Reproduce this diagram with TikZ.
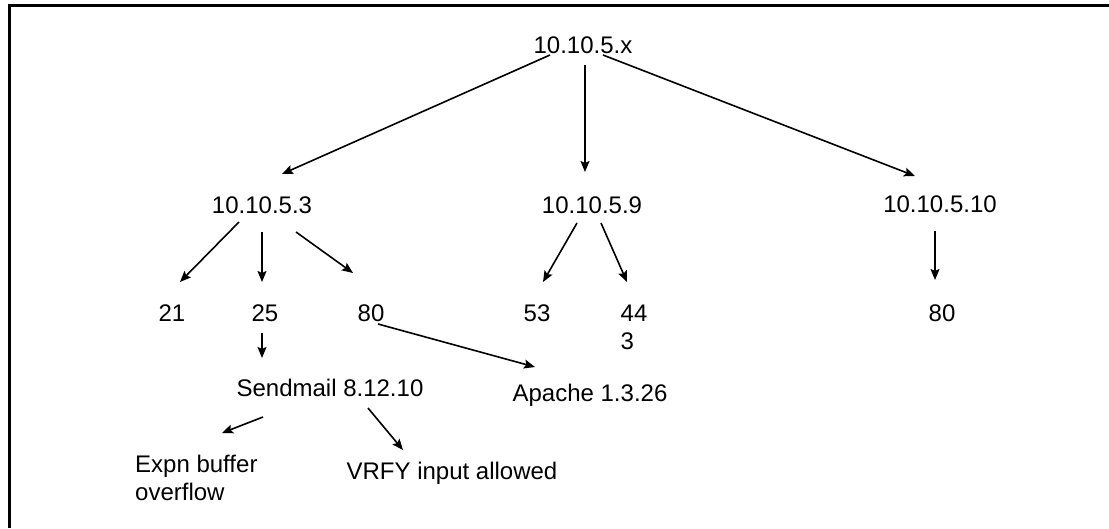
\documentclass[tikz,border=0pt]{standalone}
\usepackage{fontspec}
\setmainfont{Liberation Sans}
\usetikzlibrary{arrows.meta}
\begin{document}
\begin{tikzpicture}[x=1pt,y=-1pt,
  lbl/.style={inner sep=0pt, font=\fontsize{24}{28}\selectfont},
  link/.style={line width=1.6pt, -{Stealth[length=11pt,width=9pt,inset=2pt]}}]
\useasboundingbox (0,0) rectangle (1109,528);
\fill[white] (0,0) rectangle (1109,528);
% frame along the top and left edges
\draw[line width=2.5pt] (1109,5.5) -- (9.5,5.5) -- (9.5,528);

% hosts
\node[lbl] (root) at (583,45) {10.10.5.x};
\node[lbl] (h3)  at (262,205) {10.10.5.3};
\node[lbl] (h9)  at (592,205) {10.10.5.9};
\node[lbl] (h10) at (940,204) {10.10.5.10};

% open ports
\node[lbl] (p21)  at (172,313) {21};
\node[lbl] (p25)  at (265,313) {25};
\node[lbl] (p80a) at (371,313) {80};
\node[lbl] (p53)  at (537,313) {53};
\node[lbl, align=left] (p443) at (634,327) {44\\3};
\node[lbl] (p80b) at (942,313) {80};

% services and findings
\node[lbl] (sendmail) at (330,388) {Sendmail 8.12.10};
\node[lbl] (apache)   at (590,395) {Apache 1.3.26};
\node[lbl, align=left, anchor=west] (expn) at (135,478) {Expn buffer\\overflow};
\node[lbl] (vrfy) at (452,473) {VRFY input allowed};

% connectors
\draw[link] ([shift={(-33,10)}]root.center) -- ([shift={(20,-31)}]h3.center);
\draw[link] ([shift={(2,20)}]root.center)   -- ([shift={(-7,-33)}]h9.center);
\draw[link] ([shift={(20,10)}]root.center)  -- ([shift={(-25,-28)}]h10.center);

\draw[link] ([shift={(-23,17)}]h3.center) -- ([shift={(8,-31)}]p21.center);
\draw[link] ([shift={(0,27)}]h3.center)   -- ([shift={(-3,-31)}]p25.center);
\draw[link] ([shift={(34,27)}]h3.center)  -- ([shift={(-18,-40)}]p80a.center);

\draw[link] ([shift={(-15,18)}]h9.center) -- ([shift={(6,-31)}]p53.center);
\draw[link] ([shift={(9,18)}]h9.center)   -- ([shift={(-7,-45)}]p443.center);

\draw[link] ([shift={(-5,27)}]h10.center) -- ([shift={(-7,-33)}]p80b.center);

\draw[link] ([shift={(-3,20)}]p25.center) -- ([shift={(-68,-30)}]sendmail.center);
\draw[link] ([shift={(7,11)}]p80a.center) -- ([shift={(-55,-28)}]apache.center);

\draw[link] ([shift={(-67,29)}]sendmail.center) -- ([shift={(87,-45)}]expn.west);
\draw[link] ([shift={(38,20)}]sendmail.center)  -- ([shift={(-49,-23)}]vrfy.center);
\end{tikzpicture}
\end{document}
